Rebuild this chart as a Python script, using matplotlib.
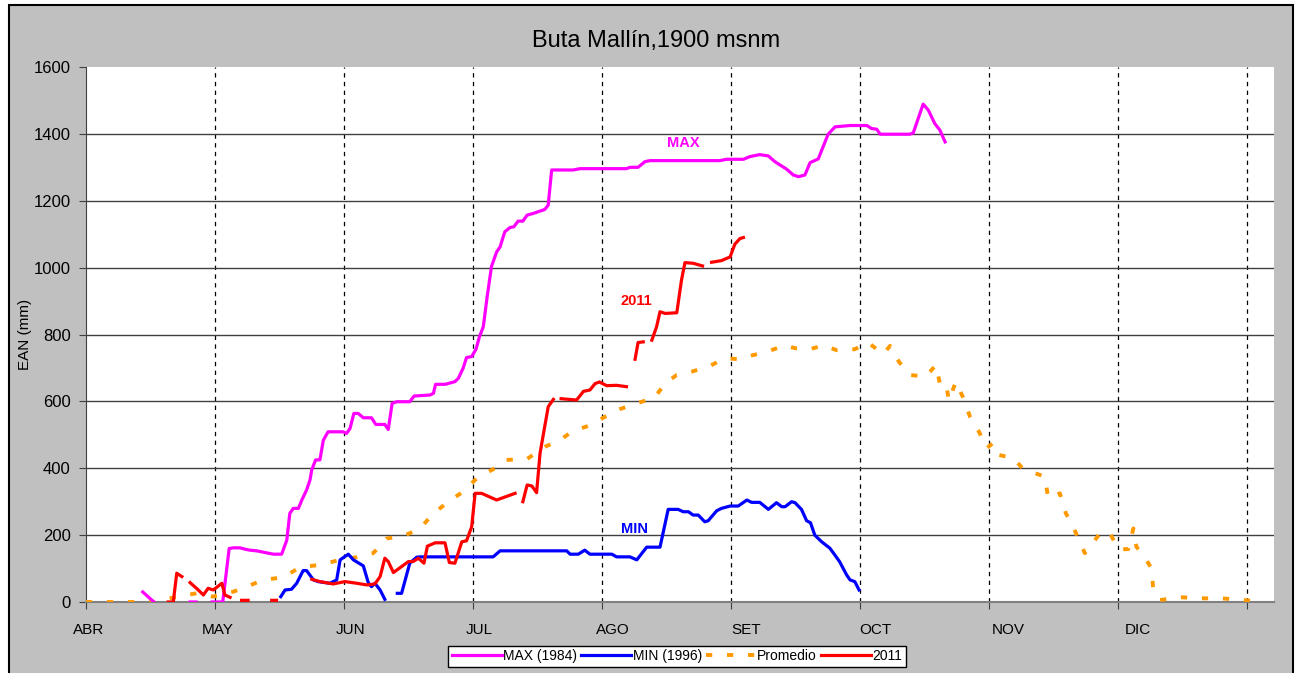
import numpy as np
import matplotlib
matplotlib.use('Agg')
import matplotlib.pyplot as plt
from matplotlib.patches import Rectangle

nan = np.nan

# days counted from 1 April
max_dia = [13.2, 15.8, nan, 24.2, 25.6, nan,
           29.3, 31.8, 33.3, 34.3, 35.8, 37.0, 38.1, 39.7, 42.0, 43.6, 45.5, 46.7, 47.4, 48.2,
           49.4, 50.2, 51.3, 52.1, 52.5, 53.4, 54.4, 55.2, 56.3, 59.8, 60.6, 61.4, 62.3, 63.3,
           64.5, 66.4, 67.4, 69.5, 70.3, 71.2, 72.3, 75.3, 76.3, 80.0, 80.8, 81.3, 83.5, 85.8,
           86.6, 87.7, 88.5, 89.7, 90.7, 91.5, 92.4, 93.3, 94.3, 95.5, 96.3, 97.4, 98.6, 99.5,
           100.5, 101.6, 102.6, 104.0, 106.7, 107.5, 108.3, 113.3, 114.9, 125.7, 126.5, 128.4,
           130.0, 131.2, 147.4, 149.0, 152.9, 154.4, 156.7, 158.7, 160.2, 163.0, 164.5, 165.7,
           167.2, 168.4, 170.3, 172.6, 174.2, 177.7, 181.6, 182.7, 183.9, 184.7, 191.6, 192.4,
           194.7, 195.9, 197.4, 198.6, 199.8]
max_ean = [30, 0, nan, 0, 0, nan,
           0, 0, 160, 162, 162, 158, 155, 153, 147, 143, 143, 185, 265, 280,
           280, 305, 335, 365, 395, 425, 425, 484, 509, 509, 504, 519, 564, 564,
           551, 551, 531, 531, 516, 594, 599, 599, 616, 619, 624, 651, 651, 659,
           669, 699, 731, 734, 756, 793, 823, 913, 1003, 1047, 1062, 1107, 1120, 1122,
           1139, 1139, 1157, 1162, 1174, 1187, 1292, 1292, 1296, 1296, 1300, 1300,
           1317, 1320, 1320, 1324, 1324, 1332, 1338, 1334, 1317, 1294, 1277, 1272,
           1277, 1314, 1325, 1399, 1421, 1425, 1425, 1416, 1414, 1399, 1399, 1403,
           1489, 1471, 1431, 1411, 1376]

min_dia = [45.3, 46.3, 47.8, 49.0, 50.5, 51.3, 52.9, 54.0, 56.7, 58.3, 59.1, 61.0, 62.2,
           64.5, 65.7, 66.4, 67.2, 68.4, 69.5, nan,
           72.4, 73.4, 75.3, 76.9, 77.7, 94.7, 96.3, 111.8, 112.6, 114.5, 116.0, 117.2,
           122.3, 123.4, 126.5, 128.1, 130.4, 133.5, 135.4, 137.7, 138.9, 140.1, 141.2,
           142.4, 143.9, 144.7, 146.7, 147.8, 149.8, 151.7, 153.7, 154.8, 156.7, 158.7,
           160.6, 161.8, 162.6, 164.1, 164.9, 166.4, 167.6, 168.5, 169.5, 171.1, 173.0,
           174.2, 175.3, 176.9, 177.7, 178.8, 179.8]
min_ean = [16, 36, 38, 56, 94, 94, 66, 61, 56, 66, 126, 143, 126,
           108, 56, 46, 56, 36, 8, nan,
           26, 26, 116, 134, 135, 135, 153, 153, 143, 143, 155, 143,
           143, 135, 135, 126, 164, 164, 277, 277, 270, 270, 260,
           260, 240, 243, 273, 280, 287, 287, 305, 298, 298, 277,
           297, 285, 285, 300, 297, 277, 243, 237, 200, 180, 161,
           140, 120, 81, 66, 61, 36]

prom_dia = [0, 15.6, 19.5, 23.4, 25.7, 29.5, 34.3, 37.4, 41.2, 45.9, 49.8, 54.4, 59.1,
            63.0, 66.8, 69.9, 73.8, 77.7, 80.8, 84.3, 87.7, 90.9, 95.1, 97.8, 102.5,
            106.7, 110.2, 113.3, 117.2, 120.7, 124.2, 128.1, 132.3, 134.7, 137.4, 140.9,
            145.1, 148.6, 152.1, 154.4, 158.3, 162.6, 164.9, 168.4, 171.5, 174.6, 178.8,
            181.9, 185.4, 187.0, 189.1, 191.6, 195.3, 197.7, 198.6, 200.0, 200.7, 202.3,
            203.9, 205.6, 207.7, 209.5, 210.9, 212.2, 215.7, 217.8, 220.3, 223.0, 223.8,
            226.5, 227.9, 229.6, 232.3, 233.5, 235.8, 238.0, 240.1, 242.4, 243.6, 244.3,
            245.9, 247.8, 248.2, 249.8, 254.8, 259.5, 264.1, 268.8, 273.4]
prom_ean = [0, 0, 11, 21, 26, 16, 31, 46, 66, 74, 104, 111, 126,
            134, 146, 190, 197, 220, 265, 300, 330, 370, 400, 425, 427,
            464, 484, 512, 528, 554, 577, 594, 612, 654, 679, 689,
            706, 729, 726, 736, 748, 768, 759, 756, 768, 753, 756,
            776, 741, 766, 718, 679, 674, 709, 652, 654, 602, 659,
            614, 554, 509, 460, 475, 440, 430, 400, 387, 375, 310,
            325, 265, 225, 146, 165, 205, 209, 158, 158, 220, 165,
            140, 101, 41, 6, 14, 11, 11, 6, 1]

a2011_dia = [19.1, 20.3, 21.1, 22.3, nan,
             24.2, 25.7, 27.3, 28.4, 29.6, 31.6, 32.3, 33.5, nan,
             36.2, 37.7, nan, 43.2, 44.3, nan,
             52.5, 54.4, 57.5, 60.2, 63.0, 65.3, 67.2, 68.4, 69.5, 70.3, 71.5, 73.4, 75.0,
             76.1, 77.3, 78.6, 79.4, 81.2, 83.5, 84.5, 85.8, 87.4, 88.5, 89.7, 90.5, 92.0,
             95.5, 99.8, nan,
             101.6, 102.6, 103.7, 104.8, 105.6, 107.5, 108.7, nan,
             110.5, 114.1, 115.7, 117.2, 118.4, 119.4, 121.1, 123.4, 125.7, nan,
             127.7, 128.4, 129.6, nan,
             131.6, 132.7, 133.5, 134.7, 137.4, 138.5, 139.3, 141.2, 143.4, nan,
             145.5, 147.8, 149.8, 150.9, 152.1, 152.9]
a2011_ean = [0, 0, 86, 76, nan,
             58, 41, 21, 41, 36, 56, 21, 14, nan,
             5, 5, nan, 5, 5, nan,
             68, 61, 54, 61, 56, 51, 54, 76, 131, 121, 88, 106, 121,
             121, 131, 116, 167, 177, 177, 118, 116, 180, 183, 225, 325, 325,
             305, 325, nan,
             300, 350, 347, 327, 445, 584, 606, nan,
             608, 604, 630, 634, 653, 658, 647, 648, 644, nan,
             726, 776, 778, nan,
             783, 823, 868, 863, 865, 963, 1015, 1013, 1005, nan,
             1016, 1021, 1032, 1070, 1087, 1090]

meses = ['ABR', 'MAY', 'JUN', 'JUL', 'AGO', 'SET', 'OCT', 'NOV', 'DIC']
inicio_mes = [0.6, 30.6, 61.5, 91.5, 122.5, 153.5, 183.5, 214.5, 244.6]

plt.rcParams['font.family'] = ['Liberation Sans', 'DejaVu Sans']

fig = plt.figure(figsize=(13.01, 6.73), dpi=100)
fig.patch.set_facecolor('white')
# gray chart area with black border
fig.patches.append(Rectangle((9 / 1301, -0.01), 1284 / 1301, 1 - 5 / 673 + 0.01,
                             transform=fig.transFigure, facecolor='#C0C0C0',
                             edgecolor='black', linewidth=1.5, zorder=-10))

ax = fig.add_axes([86 / 1301, 1 - 602 / 673, 1188 / 1301, 535 / 673])
ax.set_facecolor('white')

ax.plot(max_dia, max_ean, color='#FF00FF', lw=2.3, label='MAX (1984)', zorder=4)
ax.plot(min_dia, min_ean, color='#0000FF', lw=2.3, label='MIN (1996)', zorder=4)
ax.plot(prom_dia, prom_ean, color='#FF9900', lw=2.8, linestyle=(0, (1.6, 3.8)),
        label='Promedio', zorder=3)
ax.plot(a2011_dia, a2011_ean, color='#FF0000', lw=2.3, label='2011', zorder=5)

ax.text(139.0, 1374, 'MAX', color='#FF00FF', fontsize=10.5, fontweight='bold', ha='center', va='center')
ax.text(127.9, 900, '2011', color='#FF0000', fontsize=10.5, fontweight='bold', ha='center', va='center')
ax.text(127.5, 218, 'MIN', color='#0000FF', fontsize=10.5, fontweight='bold', ha='center', va='center')

ax.set_xlim(0, 276.3)
ax.set_ylim(0, 1600)
ax.set_yticks(range(0, 1601, 200))
ax.xaxis.remove_overlapping_locs = False
ax.set_xticks(range(0, 271, 30))
ax.set_xticklabels([])
ax.set_xticks(inicio_mes, minor=True)
ax.set_xticklabels(meses, minor=True)

ax.grid(axis='y', color='#404040', lw=1, linestyle='-')
ax.grid(axis='x', which='major', color='black', lw=0.9, linestyle=(0, (3.5, 3.5)))
ax.yaxis.get_gridlines()[-1].set_visible(False)
ax.xaxis.get_gridlines()[0].set_visible(False)
ax.set_axisbelow(True)

ax.tick_params(axis='y', direction='out', length=5, color='#404040', labelsize=12, pad=6)
ax.tick_params(axis='x', which='major', direction='out', length=5, color='#404040')
ax.tick_params(axis='x', which='minor', length=0, labelsize=11, pad=15)

for s in ['top', 'right']:
    ax.spines[s].set_visible(False)
ax.spines['left'].set_color('#404040')
ax.spines['bottom'].set_color('#808080')
ax.spines['bottom'].set_linewidth(1.5)

ax.set_ylabel('EAN (mm)', fontsize=11)
ax.yaxis.set_label_coords((32 - 86) / 1188, 0.5)
fig.text(656 / 1301, 1 - 41 / 673, 'Buta Mallín,1900 msnm', fontsize=17, ha='center', va='center')

leg = ax.legend(loc='upper center', bbox_to_anchor=(0.4975, -0.082), ncol=4, fontsize=10,
                frameon=True, fancybox=False, edgecolor='black', framealpha=1,
                handlelength=3.6, handletextpad=0.1, columnspacing=0.3,
                borderpad=0.25, borderaxespad=0)
leg.get_frame().set_linewidth(1)

plt.savefig('out.png', dpi=100)
